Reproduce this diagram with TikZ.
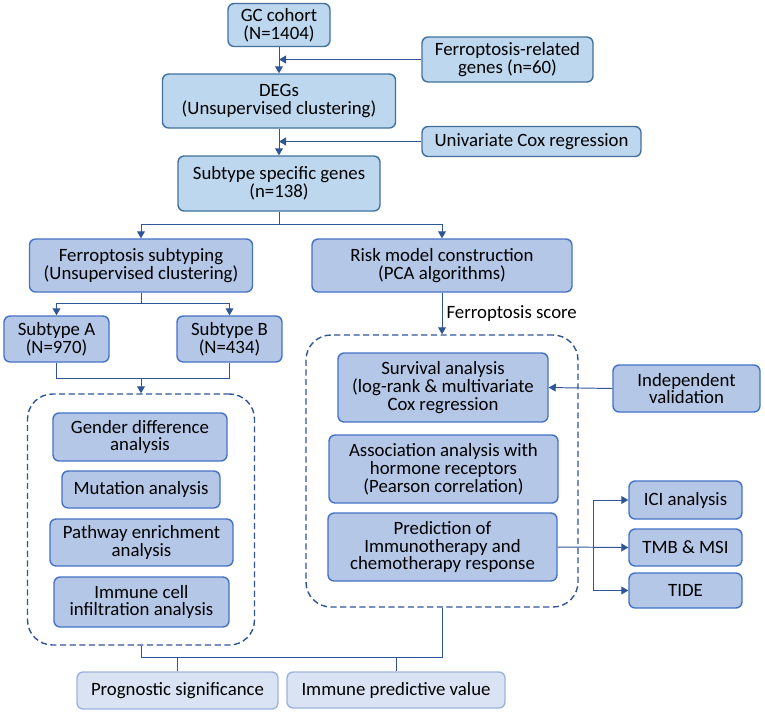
\documentclass[tikz,border=0pt]{standalone}
\usepackage{fontspec}
\setmainfont{Carlito}
\usetikzlibrary{arrows.meta}

\definecolor{topfill}{HTML}{BDD7EE}
\definecolor{topline}{HTML}{41719C}
\definecolor{lowfill}{HTML}{B4C7E7}
\definecolor{lowline}{HTML}{4472C4}
\definecolor{endfill}{HTML}{DAE3F3}
\definecolor{endline}{HTML}{9DB3DD}
\definecolor{wire}{HTML}{2F5597}

\begin{document}
\begin{tikzpicture}[-{Triangle[width=4.5pt,length=4pt]},draw=wire,line width=0.55pt,
    font=\fontsize{10.7}{10.2}\selectfont]
    \tikzstyle{topbox}=[rectangle,rounded corners=3.5pt,draw=topline,fill=topfill,line width=0.8pt,align=center,inner sep=1pt]
    \tikzstyle{lowbox}=[rectangle,rounded corners=3.5pt,draw=lowline,fill=lowfill,line width=0.8pt,align=center,inner sep=1pt]
    \tikzstyle{endbox}=[rectangle,rounded corners=3.5pt,draw=endline,fill=endfill,line width=0.8pt,align=center,inner sep=1pt]
    \tikzstyle{group}=[rectangle,rounded corners=0.5cm,draw=wire,dash pattern=on 3.5pt off 2pt,line width=0.8pt]

    \useasboundingbox (0,0) rectangle (15.3,-14.28);

    % upper part
    \node[topbox, minimum width=2.04cm, minimum height=0.86cm] (gc) at (5.58,-0.5) {GC cohort\\(N=1404)};
    \node[topbox, minimum width=3.42cm, minimum height=0.9cm] (frg) at (10.15,-1.19) {Ferroptosis-related\\genes (n=60)};
    \node[topbox, minimum width=4.66cm, minimum height=1.08cm] (degs) at (5.58,-2.02) {DEGs\\(Unsupervised clustering)};
    \node[topbox, minimum width=4.38cm, minimum height=0.6cm] (cox) at (10.63,-2.83) {Univariate Cox regression};
    \node[topbox, minimum width=4.04cm, minimum height=1.1cm] (ssg) at (5.58,-3.67) {Subtype specific genes\\(n=138)};

    \node[lowbox, minimum width=4.46cm, minimum height=1.06cm] (fsub) at (2.82,-5.31) {Ferroptosis subtyping\\(Unsupervised clustering)};
    \node[lowbox, minimum width=5.2cm, minimum height=1.06cm] (risk) at (8.84,-5.31) {Risk model construction\\(PCA algorithms)};
    \node[lowbox, minimum width=2.1cm, minimum height=0.92cm] (subA) at (1.13,-6.78) {Subtype A\\(N=970)};
    \node[lowbox, minimum width=2.1cm, minimum height=0.92cm] (subB) at (4.59,-6.78) {Subtype B\\(N=434)};

    % left group
    \node[group, minimum width=4.54cm, minimum height=5.02cm] (leftgrp) at (2.82,-10.39) {};
    \node[lowbox, minimum width=3.48cm, minimum height=0.96cm] (gender) at (2.8,-8.74) {Gender difference\\analysis};
    \node[lowbox, minimum width=3.16cm, minimum height=0.74cm] (mut) at (2.82,-9.79) {Mutation analysis};
    \node[lowbox, minimum width=3.66cm, minimum height=0.94cm] (path) at (2.83,-10.85) {Pathway enrichment\\analysis};
    \node[lowbox, minimum width=3.5cm, minimum height=1.0cm] (cells) at (2.83,-12.04) {Immune cell\\infiltration analysis};

    % right group
    \node[group, minimum width=5.44cm, minimum height=5.44cm] (rightgrp) at (8.84,-9.42) {};
    \node[lowbox, minimum width=4.2cm, minimum height=1.38cm] (surv) at (8.86,-7.75) {Survival analysis\\(log-rank \& multivariate\\Cox regression};
    \node[lowbox, minimum width=2.94cm, minimum height=0.94cm] (indep) at (13.73,-7.77) {Independent\\validation};
    \node[lowbox, minimum width=4.58cm, minimum height=1.36cm] (assoc) at (8.87,-9.38) {Association analysis with\\hormone receptors\\(Pearson correlation)};
    \node[lowbox, minimum width=4.58cm, minimum height=1.36cm] (pred) at (8.85,-10.94) {Prediction of\\Immunotherapy and\\chemotherapy response};
    \node[lowbox, minimum width=2.26cm, minimum height=0.76cm] (ici) at (13.71,-10.0) {ICI analysis};
    \node[lowbox, minimum width=2.26cm, minimum height=0.74cm] (tmb) at (13.71,-10.95) {TMB \& MSI};
    \node[lowbox, minimum width=2.26cm, minimum height=0.7cm] (tide) at (13.71,-11.81) {TIDE};

    % outcomes
    \node[endbox, minimum width=4.02cm, minimum height=0.74cm] (prog) at (3.55,-13.81) {Prognostic significance};
    \node[endbox, minimum width=4.36cm, minimum height=0.72cm] (immpred) at (7.92,-13.8) {Immune predictive value};

    \coordinate (j1) at (5.58,-4.48);
    \coordinate (j2) at (2.82,-6.06);
    \coordinate (j3) at (2.82,-7.56);
    \coordinate (j4) at (11.86,-10.95);
    \coordinate (j5) at (2.82,-13.14);

    \path (gc) edge (degs);
    \draw (frg.west) -- (frg.west -| gc.south);
    \path (degs) edge (ssg);
    \draw (cox.west) -- (cox.west -| degs.south);

    \draw[-] (ssg.south) -- (j1);
    \draw (j1) -| (fsub.north);
    \draw (j1) -| (risk.north);

    \draw[-] (fsub.south) -- (j2);
    \draw (j2) -| (subA.north);
    \draw (j2) -| (subB.north);

    \draw[-] (subA.south) |- (j3) -| (subB.south);
    \draw (j3) -- (leftgrp.north);

    \draw (risk.south) -- node[right, xshift=-1pt] {Ferroptosis score} (rightgrp.north);
    \draw (indep.west) -- (surv.east);

    \draw (pred.east) -- (tmb.west);
    \draw (j4) |- (ici.west);
    \draw (j4) |- (tide.west);

    \draw[-] (leftgrp.south) -- (j5) -| (rightgrp.south);
    \draw[-] (prog.north) -- (prog.north |- j5);
    \draw[-] (immpred.north) -- (immpred.north |- j5);
\end{tikzpicture}
\end{document}
